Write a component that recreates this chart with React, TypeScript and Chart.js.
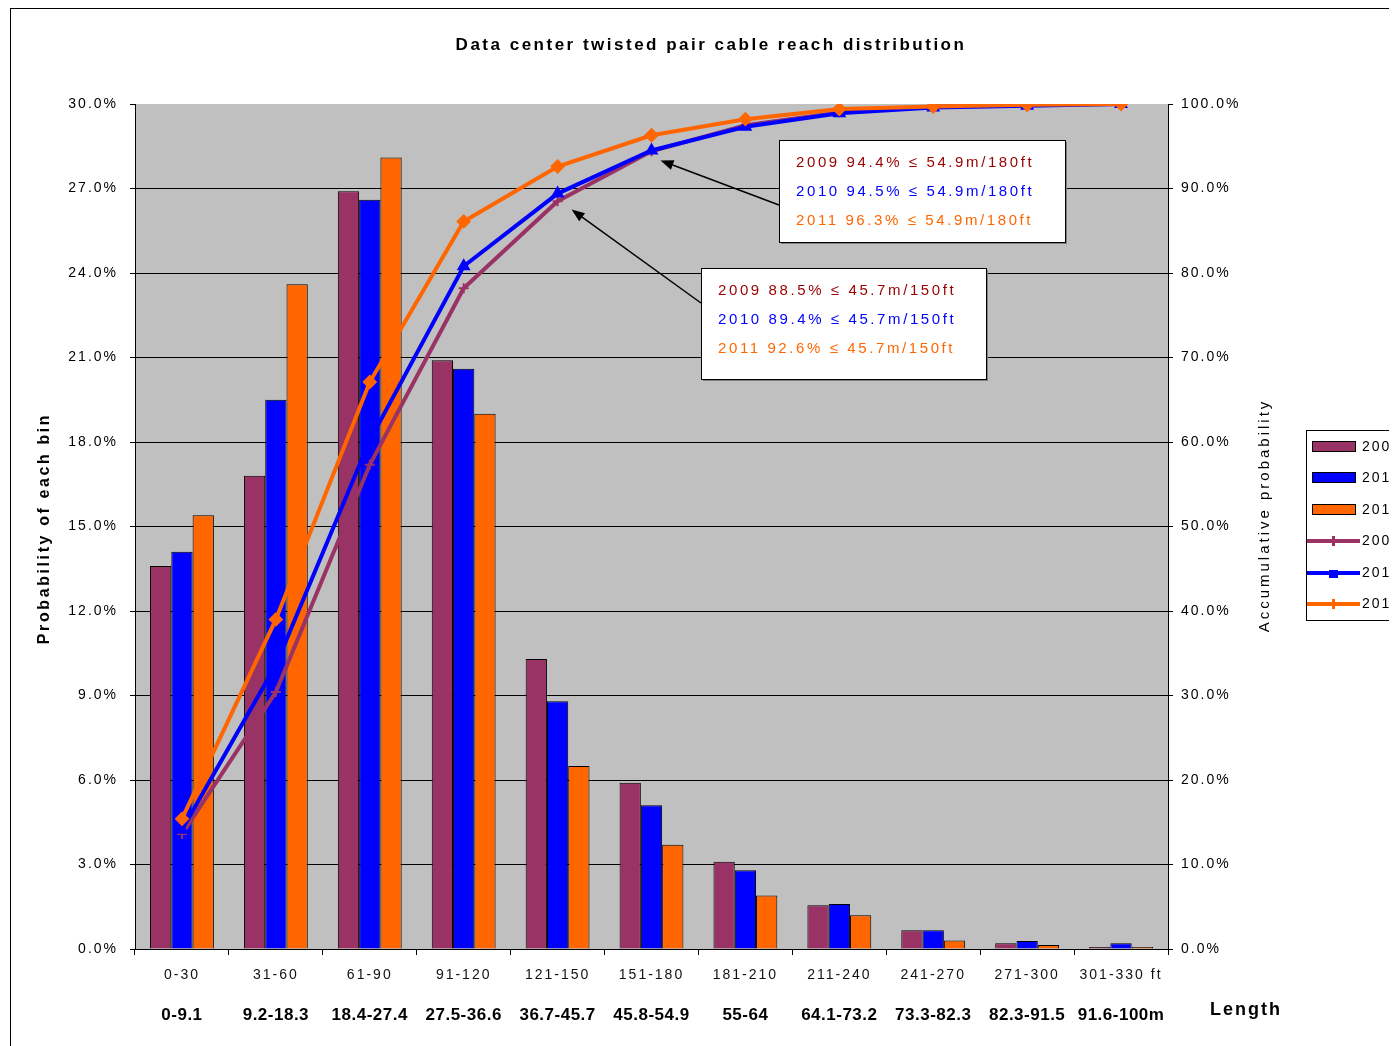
import React, { useEffect, useRef } from "react";
import { Chart, registerables } from "chart.js";

Chart.register(...registerables);

const chartTitle = "Data center twisted pair cable reach distribution";
const leftAxisTitle = "Probability of each bin";
const rightAxisTitle = "Accumulative probability";
const lengthLabel = "Length";
const feetBins = ["0-30", "31-60", "61-90", "91-120", "121-150", "151-180", "181-210", "211-240", "241-270", "271-300", "301-330 ft"];
const meterBins = ["0-9.1", "9.2-18.3", "18.4-27.4", "27.5-36.6", "36.7-45.7", "45.8-54.9", "55-64", "64.1-73.2", "73.3-82.3", "82.3-91.5", "91.6-100m"];
const years = ["2009", "2010", "2011"];

const bin2009 = [13.6, 16.8, 26.9, 20.9, 10.3, 5.9, 3.1, 1.55, 0.67, 0.2, 0.07];
const bin2010 = [14.1, 19.5, 26.6, 20.6, 8.8, 5.1, 2.8, 1.6, 0.67, 0.28, 0.2];
const bin2011 = [15.4, 23.6, 28.1, 19.0, 6.5, 3.7, 1.9, 1.2, 0.3, 0.14, 0.07];

const cum2009 = [13.6, 30.4, 57.3, 78.2, 88.5, 94.4, 97.5, 99.0, 99.7, 99.9, 100];
const cum2010 = [14.1, 33.6, 60.2, 80.8, 89.4, 94.5, 97.3, 98.9, 99.6, 99.8, 100];
const cum2011 = [15.4, 39.0, 67.1, 86.1, 92.6, 96.3, 98.2, 99.4, 99.7, 99.9, 100];

const note180 = ["2009 94.4% \u2264 54.9m/180ft", "2010 94.5% \u2264 54.9m/180ft", "2011 96.3% \u2264 54.9m/180ft"];
const note150 = ["2009 88.5% \u2264 45.7m/150ft", "2010 89.4% \u2264 45.7m/150ft", "2011 92.6% \u2264 45.7m/150ft"];

const MAROON = "#993366";
const BLUE = "#0000FF";
const ORANGE = "#FF6600";
const noteColors = ["#990000", "#0000FF", "#FF6600"];
const FONT = '"Liberation Sans", Arial, sans-serif';

function txt(ctx: any, s: string, x: number, y: number, font: string, color: string, align: string, spacing: string, rot = 0) {
  ctx.save();
  ctx.translate(x, y);
  if (rot) ctx.rotate(rot);
  ctx.font = font;
  ctx.fillStyle = color;
  ctx.textAlign = align;
  ctx.textBaseline = "middle";
  ctx.letterSpacing = spacing;
  ctx.fillText(s, 0, 0);
  ctx.restore();
}

function arrow(ctx: any, x1: number, y1: number, x2: number, y2: number) {
  ctx.save();
  ctx.strokeStyle = "#000";
  ctx.fillStyle = "#000";
  ctx.lineWidth = 1.5;
  const ang = Math.atan2(y2 - y1, x2 - x1);
  const hl = 13, hw = 5;
  const bx = x2 - hl * Math.cos(ang), by = y2 - hl * Math.sin(ang);
  ctx.beginPath();
  ctx.moveTo(x1, y1);
  ctx.lineTo(bx, by);
  ctx.stroke();
  ctx.beginPath();
  ctx.moveTo(x2, y2);
  ctx.lineTo(bx + hw * Math.sin(ang), by - hw * Math.cos(ang));
  ctx.lineTo(bx - hw * Math.sin(ang), by + hw * Math.cos(ang));
  ctx.closePath();
  ctx.fill();
  ctx.restore();
}

function noteBox(ctx: any, lines: string[], left: number, top: number, w: number, h: number) {
  ctx.save();
  ctx.fillStyle = "#808080";
  ctx.fillRect(left + 2, top + 2, w, h);
  ctx.fillStyle = "#fff";
  ctx.fillRect(left, top, w, h);
  ctx.strokeStyle = "#000";
  ctx.lineWidth = 1;
  ctx.strokeRect(left + 0.5, top + 0.5, w, h);
  ctx.restore();
  lines.forEach((s, i) => {
    txt(ctx, s, left + 17, top + 23 + i * 29, `15px ${FONT}`, noteColors[i], "left", "2.6px");
  });
}

const decor = {
  id: "decor",
  beforeDraw(chart: any) {
    const { ctx, chartArea: a, width, height } = chart;
    ctx.save();
    ctx.fillStyle = "#fff";
    ctx.fillRect(0, 0, width, height);
    ctx.fillStyle = "#C0C0C0";
    ctx.fillRect(a.left, a.top, a.right - a.left, a.bottom - a.top);
    ctx.restore();
    ctx.letterSpacing = "2px";
  },
  afterDraw(chart: any) {
    const { ctx, chartArea: a, width, height } = chart;
    const xs = chart.scales.x;
    const y2 = chart.scales.y2;
    ctx.save();
    ctx.letterSpacing = "0px";

    // frame
    ctx.strokeStyle = "#000";
    ctx.lineWidth = 1;
    ctx.strokeRect(2.5, 0.5, width, height + 10);

    // titles
    txt(ctx, chartTitle, a.left + 576, a.top - 59, `bold 17px ${FONT}`, "#000", "center", "2.5px");
    const midY = (a.top + a.bottom) / 2;
    txt(ctx, leftAxisTitle, 37, midY + 2, `bold 16px ${FONT}`, "#000", "center", "2.6px", -Math.PI / 2);
    txt(ctx, rightAxisTitle, a.right + 97, midY - 11, `15px ${FONT}`, "#000", "center", "3px", -Math.PI / 2);

    // metre labels
    meterBins.forEach((m, i) => {
      txt(ctx, m, xs.getPixelForValue(i), a.bottom + 66, `bold 17px ${FONT}`, "#000", "center", "0.5px");
    });
    txt(ctx, lengthLabel, a.right + 42, a.bottom + 61, `bold 18px ${FONT}`, "#000", "left", "2px");

    // annotations
    const p5 = { x: xs.getPixelForValue(5), y: y2.getPixelForValue(cum2010[5]) };
    const p4 = { x: xs.getPixelForValue(4), y: y2.getPixelForValue(cum2010[4]) };
    arrow(ctx, a.left + 644, a.top + 101, p5.x + 9, p5.y + 10);
    arrow(ctx, a.left + 566, a.top + 199, p4.x + 14, p4.y + 16);
    noteBox(ctx, note180, a.left + 644, a.top + 36, 286, 102);
    noteBox(ctx, note150, a.left + 566, a.top + 164, 285, 111);

    // legend
    const lx = a.right + 138;
    const ly = a.top + 326;
    ctx.fillStyle = "#fff";
    ctx.fillRect(lx, ly, 130, 190);
    ctx.strokeStyle = "#000";
    ctx.lineWidth = 1;
    ctx.strokeRect(lx + 0.5, ly + 0.5, 130, 190);
    const cols = [MAROON, BLUE, ORANGE];
    const rowY = [17, 48, 80, 111, 143, 174];
    years.forEach((yr, i) => {
      const cy = ly + rowY[i];
      ctx.fillStyle = cols[i];
      ctx.fillRect(lx + 6, cy - 6, 44, 11);
      ctx.strokeStyle = "#000";
      ctx.lineWidth = 1;
      ctx.strokeRect(lx + 6.5, cy - 5.5, 43, 10);
      txt(ctx, yr, lx + 56, cy, `14px ${FONT}`, "#000", "left", "2px");
    });
    years.forEach((yr, i) => {
      const cy = ly + rowY[i + 3];
      ctx.strokeStyle = cols[i];
      ctx.lineWidth = 4;
      ctx.beginPath();
      ctx.moveTo(lx + 1, cy);
      ctx.lineTo(lx + 54, cy);
      ctx.stroke();
      ctx.fillStyle = cols[i];
      if (i === 1) ctx.fillRect(lx + 23, cy - 3, 9, 8);
      else ctx.fillRect(lx + 26, cy - 5, 3, 10);
      txt(ctx, yr, lx + 56, cy, `14px ${FONT}`, "#000", "left", "2px");
    });
    ctx.restore();
  },
};

export default function App() {
  const ref = useRef<HTMLCanvasElement>(null);
  useEffect(() => {
    document.documentElement.style.overflow = "hidden";
    Chart.defaults.font.family = FONT;
    const barDs = (label: string, data: number[], color: string) => ({
      type: "bar" as const,
      label,
      data,
      backgroundColor: color,
      borderColor: "#000",
      borderWidth: 1,
      yAxisID: "y",
      order: 5,
      categoryPercentage: 0.68,
      barPercentage: 1.0,
    });
    const lineDs = (label: string, data: number[], color: string, style: string, radius: number, order: number) => ({
      type: "line" as const,
      label,
      data,
      borderColor: color,
      backgroundColor: color,
      borderWidth: 4,
      pointStyle: style,
      pointRadius: radius,
      pointBorderWidth: 2,
      pointBackgroundColor: color,
      pointBorderColor: color,
      tension: 0,
      fill: false,
      yAxisID: "y2",
      order,
    });
    const chart = new Chart(ref.current!, {
      type: "bar",
      data: {
        labels: feetBins,
        datasets: [
          barDs(years[0], bin2009, MAROON),
          barDs(years[1], bin2010, BLUE),
          barDs(years[2], bin2011, ORANGE),
          lineDs(years[0], cum2009, MAROON, "cross", 5, 3),
          lineDs(years[1], cum2010, BLUE, "triangle", 6, 2),
          lineDs(years[2], cum2011, ORANGE, "rectRot", 6, 1),
        ] as any,
      },
      options: {
        responsive: false,
        animation: false,
        devicePixelRatio: 1,
        layout: { padding: { left: 0, top: 96, right: 130, bottom: 0 } },
        plugins: { legend: { display: false }, tooltip: { enabled: false }, title: { display: false } },
        scales: {
          x: {
            afterFit: (s: any) => { s.height = 97; },
            grid: { drawOnChartArea: false, tickLength: 6, tickColor: "#000", offset: true },
            border: { color: "#000", width: 1 },
            ticks: { color: "#111", font: { size: 14 }, padding: 12, maxRotation: 0, autoSkip: false },
          },
          y: {
            position: "left",
            min: 0,
            max: 30,
            afterFit: (s: any) => { s.width = 127; },
            grid: {
              color: (c: any) => (c.tick && c.tick.value === 30 ? "rgba(0,0,0,0)" : "#000"),
              tickColor: "#000",
              tickLength: 5,
              lineWidth: 1,
            },
            border: { color: "#000", width: 1 },
            ticks: { stepSize: 3, color: "#000", font: { size: 14 }, padding: 12, callback: (v: any) => Number(v).toFixed(1) + "%" },
          },
          y2: {
            position: "right",
            min: 0,
            max: 100,
            afterFit: (s: any) => { s.width = 150; },
            grid: { drawOnChartArea: false, tickColor: "#000", tickLength: 5 },
            border: { color: "#000", width: 1 },
            ticks: { stepSize: 10, color: "#000", font: { size: 14 }, padding: 8, callback: (v: any) => Number(v).toFixed(1) + "%" },
          },
        },
      } as any,
      plugins: [decor],
    });
    return () => chart.destroy();
  }, []);
  return (
    <div style={{ width: 1389, height: 1038, overflow: "hidden" }}>
      <canvas ref={ref} width={1440} height={1038} style={{ display: "block" }} />
    </div>
  );
}
